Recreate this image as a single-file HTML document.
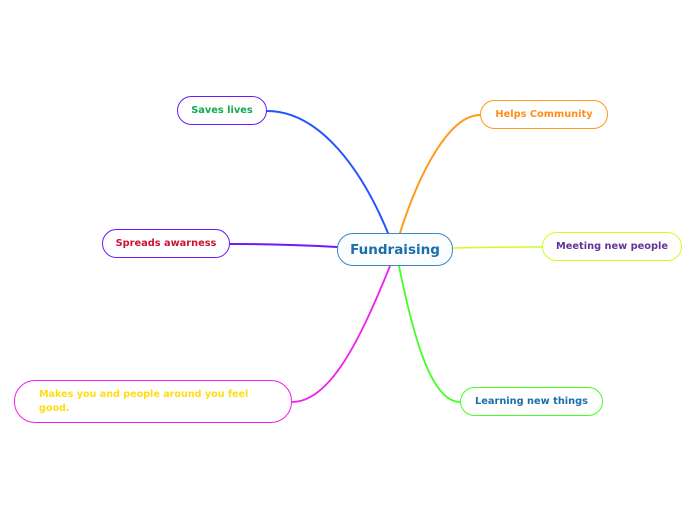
<!DOCTYPE html>
<html><head><meta charset="utf-8"><style>
html,body{margin:0;padding:0;background:#fff;width:696px;height:520px;overflow:hidden;position:relative;font-family:"DejaVu Sans","Liberation Sans",sans-serif;}
.n{position:absolute;box-sizing:border-box;border:1.8px solid;border-radius:15px;background:#fff;font-weight:bold;font-size:9.8px;display:flex;align-items:center;justify-content:center;white-space:nowrap;}
svg{position:absolute;left:0;top:0;}
</style></head><body>
<svg width="696" height="520">
<g fill="none" stroke-linecap="round">
<path d="M388,233 C362,170 320,111 267,111" stroke="#2255ff" stroke-width="2"/>
<path d="M400,233 C420,170 450,115 480,115" stroke="#ff9a1a" stroke-width="2"/>
<path d="M337,247 C300,245 260,244 230,244" stroke="#6a1aff" stroke-width="2"/>
<path d="M453,248 C490,247 520,247 542,247" stroke="#ccff22" stroke-width="1.5"/>
<path d="M390,266 C360,340 330,402 292,402" stroke="#ee22ee" stroke-width="1.8"/>
<path d="M399,266 C412,330 430,402 460,402" stroke="#44ff22" stroke-width="1.8"/>
</g>
</svg>
<div class="n" style="left:337px;top:233px;width:116px;height:33px;border-color:#3a8ac8;background:#fafdff;color:#1a6fa8;font-size:13.5px;border-radius:16px;">Fundraising</div>
<div class="n" style="left:177px;top:96px;width:90px;height:29px;border-color:#6a1aff;color:#11aa55;">Saves lives</div>
<div class="n" style="left:102px;top:229px;width:128px;height:29px;border-color:#6a1aff;color:#cc1133;">Spreads awarness</div>
<div class="n" style="left:14px;top:380px;width:278px;height:43px;border-color:#ee22ee;color:#ffdd11;border-radius:21px;justify-content:flex-start;align-items:flex-start;padding:7px 0 0 24px;line-height:14px;white-space:normal;font-size:9.6px;">Makes you and people around you feel<br>good.</div>
<div class="n" style="left:480px;top:100px;width:128px;height:29px;border-color:#ff9a1a;color:#ff8c1a;">Helps Community</div>
<div class="n" style="left:542px;top:232px;width:140px;height:29px;border-color:#ccff22;color:#663399;">Meeting new people</div>
<div class="n" style="left:460px;top:387px;width:143px;height:29px;border-color:#44ff22;color:#1a6fa8;">Learning new things</div>
</body></html>
